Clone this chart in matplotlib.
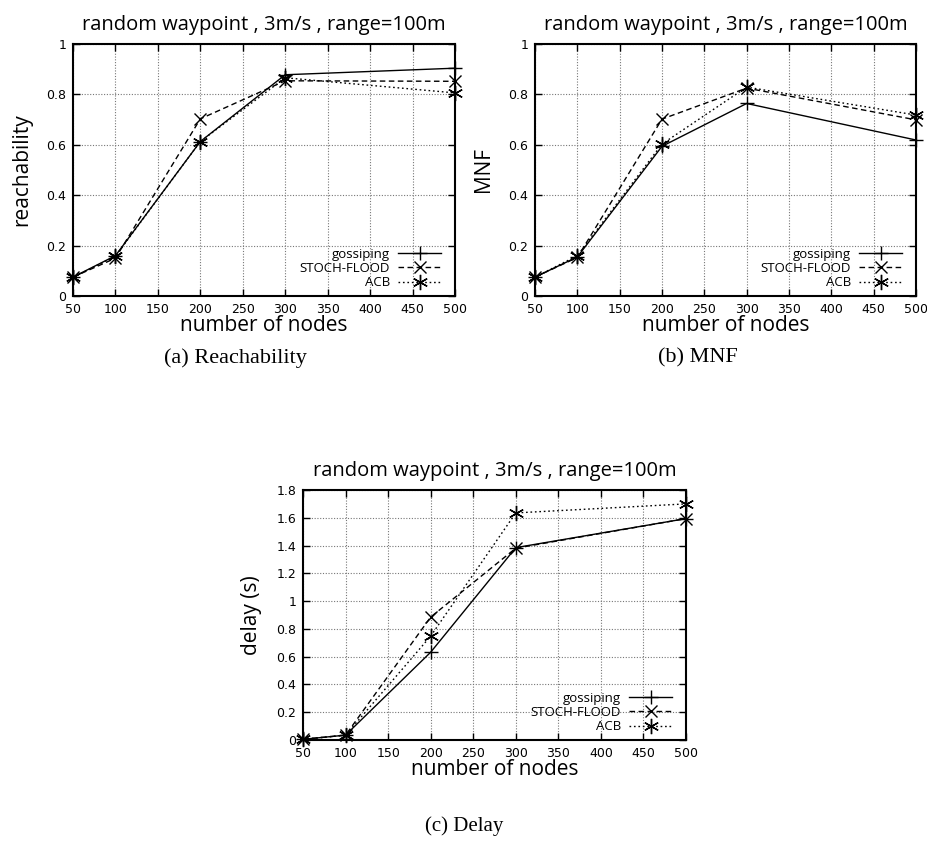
import matplotlib
matplotlib.use("Agg")
import matplotlib.pyplot as plt
from matplotlib.ticker import FormatStrFormatter

nodes = [50, 100, 200, 300, 500]
series_names = ["gossiping", "STOCH-FLOOD", "ACB"]

reach_gossip = [0.075, 0.16, 0.613, 0.878, 0.904]
reach_stoch = [0.075, 0.15, 0.703, 0.854, 0.852]
reach_acb = [0.075, 0.158, 0.613, 0.866, 0.806]

mnf_gossip = [0.075, 0.155, 0.594, 0.764, 0.619]
mnf_stoch = [0.075, 0.153, 0.702, 0.825, 0.699]
mnf_acb = [0.075, 0.16, 0.603, 0.829, 0.718]

delay_gossip = [0.005, 0.035, 0.632, 1.385, 1.594]
delay_stoch = [0.005, 0.035, 0.885, 1.381, 1.594]
delay_acb = [0.005, 0.035, 0.748, 1.635, 1.700]

title = "random waypoint , 3m/s , range=100m"
x_ticks = [50, 100, 150, 200, 250, 300, 350, 400, 450, 500]

W, H = 928, 843
fig = plt.figure(figsize=(W / 100, H / 100), dpi=100)

def rect(l, t, r, b):
    return [l / W, 1 - b / H, (r - l) / W, (b - t) / H]

styles = [
    dict(ls="-", marker="+", ms=10, mew=1.0),
    dict(ls=(0, (4, 2.5)), marker="x", ms=9, mew=1.0),
    dict(ls=(0, (1.2, 2)), marker=(6, 2, 0), ms=11, mew=1.0),
]

def draw(ax, ys, ylabel, ymax, yticks, tick_fs):
    for y, name, st in zip(ys, series_names, styles):
        ax.plot(nodes, y, color="black", lw=1.0, label=name, clip_on=False,
                zorder=3, **st)
    ax.set_xlim(50, 500)
    ax.set_ylim(0, ymax)
    ax.set_xticks(x_ticks)
    ax.set_yticks(yticks)
    ax.yaxis.set_major_formatter(FormatStrFormatter("%g"))
    ax.grid(True, color="#777777", ls=(0, (1, 1.5)), lw=0.8)
    ax.tick_params(direction="in", top=True, right=True, length=5, width=1,
                   labelsize=tick_fs, pad=5)
    for s in ax.spines.values():
        s.set_linewidth(1.5)
    ax.set_title(title, fontsize=14.5, pad=10, family="Open Sans")
    ax.set_xlabel("number of nodes", fontsize=15, labelpad=-1, family="Open Sans")
    ax.set_ylabel(ylabel, fontsize=15, labelpad=10, family="Open Sans")
    ax.legend(loc="lower right", bbox_to_anchor=(0.985, -0.005), markerfirst=False,
              frameon=False, handlelength=3.3, labelspacing=0.1,
              borderaxespad=0.2, handletextpad=0.6,
              prop={"family": "Open Sans", "size": 9.5})

ax1 = fig.add_axes(rect(73, 44, 455, 296))
draw(ax1, [reach_gossip, reach_stoch, reach_acb], "reachability", 1.0,
     [0, 0.2, 0.4, 0.6, 0.8, 1.0], 9)

ax2 = fig.add_axes(rect(535, 44, 916, 296))
draw(ax2, [mnf_gossip, mnf_stoch, mnf_acb], "MNF", 1.0,
     [0, 0.2, 0.4, 0.6, 0.8, 1.0], 9)

ax3 = fig.add_axes(rect(303, 490, 686, 740))
draw(ax3, [delay_gossip, delay_stoch, delay_acb], "delay (s)", 1.8,
     [0, 0.2, 0.4, 0.6, 0.8, 1.0, 1.2, 1.4, 1.6, 1.8], 9)

fig.text(235 / W, 1 - 358 / H, "(a) Reachability", ha="center", va="center",
         fontsize=16, family="Liberation Serif")
fig.text(698 / W, 1 - 358 / H, "(b) MNF", ha="center", va="center",
         fontsize=16, family="Liberation Serif")
fig.text(464 / W, 1 - 826 / H, "(c) Delay", ha="center", va="center",
         fontsize=15, family="Liberation Serif")

fig.savefig("out.png", dpi=100)
